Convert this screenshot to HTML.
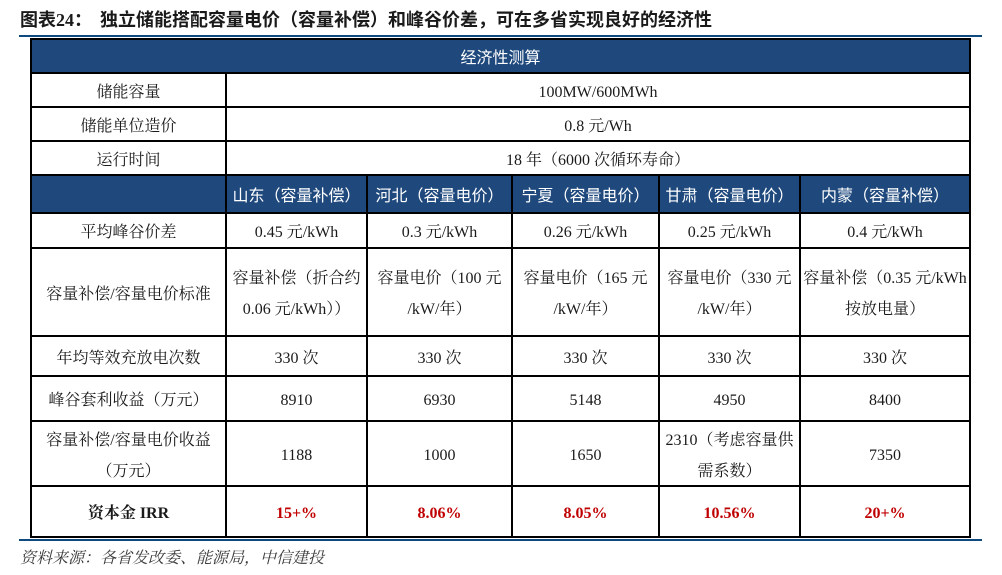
<!DOCTYPE html>
<html>
<head>
<meta charset="utf-8">
<style>
  html,body{margin:0;padding:0;background:#fff;}
  body{width:1002px;height:575px;position:relative;overflow:hidden;
       font-family:"Liberation Serif","Noto Serif CJK SC",serif;color:#1a1a1a;}
  .a{position:absolute;}
  .h{position:absolute;background:#000;height:2px;}
  .v{position:absolute;background:#000;width:2px;}
  .blue{position:absolute;background:#1f497d;}
  .c{position:absolute;display:flex;align-items:center;justify-content:center;text-align:center;
     font-size:16px;line-height:31px;white-space:nowrap;transform:translateY(2px);}
  .hd{color:#fff;font-family:"Liberation Sans","Noto Sans CJK SC",sans-serif;font-size:16px;}
  .red{color:#c00000;font-weight:bold;}
  .b{font-weight:bold;}
</style>
</head>
<body>
<!-- title -->
<div class="a" style="left:20px;top:10px;font-size:18px;line-height:20px;font-weight:bold;font-family:'Liberation Serif','Noto Sans CJK SC',sans-serif;color:#1a1a1a;">图表24：</div>
<div class="a" style="left:100px;top:10px;font-size:18px;line-height:20px;font-weight:bold;font-family:'Liberation Sans','Noto Sans CJK SC',sans-serif;color:#1a1a1a;white-space:nowrap;">独立储能搭配容量电价（容量补偿）和峰谷价差，可在多省实现良好的经济性</div>

<!-- top blue rule -->
<div class="a" style="left:19px;top:35px;width:963px;height:2px;background:#0f4a7e;"></div>
<!-- bottom blue rule -->
<div class="a" style="left:19px;top:539px;width:963px;height:2px;background:#0f4a7e;"></div>

<!-- blue header fills -->
<div class="blue" style="left:30px;top:38px;width:941px;height:35px;"></div>
<div class="blue" style="left:30px;top:174px;width:941px;height:39px;"></div>

<!-- horizontal lines -->
<div class="h" style="left:30px;top:38px;width:941px;"></div>
<div class="h" style="left:30px;top:72px;width:941px;"></div>
<div class="h" style="left:30px;top:106px;width:941px;"></div>
<div class="h" style="left:30px;top:140px;width:941px;"></div>
<div class="h" style="left:30px;top:174px;width:941px;"></div>
<div class="h" style="left:30px;top:212px;width:941px;"></div>
<div class="h" style="left:30px;top:247px;width:941px;"></div>
<div class="h" style="left:30px;top:335px;width:941px;"></div>
<div class="h" style="left:30px;top:375px;width:941px;"></div>
<div class="h" style="left:30px;top:420px;width:941px;"></div>
<div class="h" style="left:30px;top:485px;width:941px;"></div>
<div class="h" style="left:30px;top:536px;width:941px;"></div>

<!-- vertical lines -->
<div class="v" style="left:30px;top:38px;height:500px;"></div>
<div class="v" style="left:969px;top:38px;height:500px;"></div>
<div class="v" style="left:225px;top:72px;height:466px;"></div>
<div class="v" style="left:366px;top:174px;height:364px;"></div>
<div class="v" style="left:511px;top:174px;height:364px;"></div>
<div class="v" style="left:658px;top:174px;height:364px;"></div>
<div class="v" style="left:799px;top:174px;height:364px;"></div>

<!-- header row 1 -->
<div class="c hd" style="left:32px;top:40px;width:937px;height:32px;">经济性测算</div>

<!-- rows 1-3 -->
<div class="c" style="left:32px;top:74px;width:193px;height:32px;">储能容量</div>
<div class="c" style="left:227px;top:74px;width:742px;height:32px;">100MW/600MWh</div>
<div class="c" style="left:32px;top:108px;width:193px;height:32px;">储能单位造价</div>
<div class="c" style="left:227px;top:108px;width:742px;height:32px;">0.8 元/Wh</div>
<div class="c" style="left:32px;top:142px;width:193px;height:32px;">运行时间</div>
<div class="c" style="left:227px;top:142px;width:742px;height:32px;">18 年（6000 次循环寿命）</div>

<!-- header row 2 -->
<div class="c hd" style="left:227px;top:176px;width:139px;height:36px;">山东（容量补偿）</div>
<div class="c hd" style="left:368px;top:176px;width:143px;height:36px;">河北（容量电价）</div>
<div class="c hd" style="left:513px;top:176px;width:145px;height:36px;">宁夏（容量电价）</div>
<div class="c hd" style="left:660px;top:176px;width:139px;height:36px;">甘肃（容量电价）</div>
<div class="c hd" style="left:801px;top:176px;width:168px;height:36px;">内蒙（容量补偿）</div>

<!-- 平均峰谷价差 -->
<div class="c" style="left:32px;top:214px;width:193px;height:33px;">平均峰谷价差</div>
<div class="c" style="left:227px;top:214px;width:139px;height:33px;">0.45 元/kWh</div>
<div class="c" style="left:368px;top:214px;width:143px;height:33px;">0.3 元/kWh</div>
<div class="c" style="left:513px;top:214px;width:145px;height:33px;">0.26 元/kWh</div>
<div class="c" style="left:660px;top:214px;width:139px;height:33px;">0.25 元/kWh</div>
<div class="c" style="left:801px;top:214px;width:168px;height:33px;">0.4 元/kWh</div>

<!-- 容量补偿/容量电价标准 -->
<div class="c" style="left:32px;top:249px;width:193px;height:86px;">容量补偿/容量电价标准</div>
<div class="c" style="left:227px;top:249px;width:139px;height:86px;">容量补偿（折合约<br>0.06 元/kWh））</div>
<div class="c" style="left:368px;top:249px;width:143px;height:86px;">容量电价（100 元<br>/kW/年）</div>
<div class="c" style="left:513px;top:249px;width:145px;height:86px;">容量电价（165 元<br>/kW/年）</div>
<div class="c" style="left:660px;top:249px;width:139px;height:86px;">容量电价（330 元<br>/kW/年）</div>
<div class="c" style="left:801px;top:249px;width:168px;height:86px;">容量补偿（0.35 元/kWh<br>按放电量）</div>

<!-- 年均等效充放电次数 -->
<div class="c" style="left:32px;top:337px;width:193px;height:38px;">年均等效充放电次数</div>
<div class="c" style="left:227px;top:337px;width:139px;height:38px;">330 次</div>
<div class="c" style="left:368px;top:337px;width:143px;height:38px;">330 次</div>
<div class="c" style="left:513px;top:337px;width:145px;height:38px;">330 次</div>
<div class="c" style="left:660px;top:337px;width:139px;height:38px;">330 次</div>
<div class="c" style="left:801px;top:337px;width:168px;height:38px;">330 次</div>

<!-- 峰谷套利收益 -->
<div class="c" style="left:32px;top:377px;width:193px;height:43px;">峰谷套利收益（万元）</div>
<div class="c" style="left:227px;top:377px;width:139px;height:43px;">8910</div>
<div class="c" style="left:368px;top:377px;width:143px;height:43px;">6930</div>
<div class="c" style="left:513px;top:377px;width:145px;height:43px;">5148</div>
<div class="c" style="left:660px;top:377px;width:139px;height:43px;">4950</div>
<div class="c" style="left:801px;top:377px;width:168px;height:43px;">8400</div>

<!-- 容量补偿/容量电价收益 -->
<div class="c" style="left:32px;top:422px;width:193px;height:63px;">容量补偿/容量电价收益<br>（万元）</div>
<div class="c" style="left:227px;top:422px;width:139px;height:63px;">1188</div>
<div class="c" style="left:368px;top:422px;width:143px;height:63px;">1000</div>
<div class="c" style="left:513px;top:422px;width:145px;height:63px;">1650</div>
<div class="c" style="left:660px;top:422px;width:139px;height:63px;">2310（考虑容量供<br>需系数）</div>
<div class="c" style="left:801px;top:422px;width:168px;height:63px;">7350</div>

<!-- IRR -->
<div class="c b" style="left:32px;top:487px;width:193px;height:49px;">资本金 IRR</div>
<div class="c red" style="left:227px;top:487px;width:139px;height:49px;">15+%</div>
<div class="c red" style="left:368px;top:487px;width:143px;height:49px;">8.06%</div>
<div class="c red" style="left:513px;top:487px;width:145px;height:49px;">8.05%</div>
<div class="c red" style="left:660px;top:487px;width:139px;height:49px;">10.56%</div>
<div class="c red" style="left:801px;top:487px;width:168px;height:49px;">20+%</div>

<!-- source -->
<div class="a" style="left:20px;top:549px;font-size:16px;line-height:20px;font-style:italic;color:#3a3a3a;white-space:nowrap;">资料来源：各省发改委、能源局，中信建投</div>
</body>
</html>
